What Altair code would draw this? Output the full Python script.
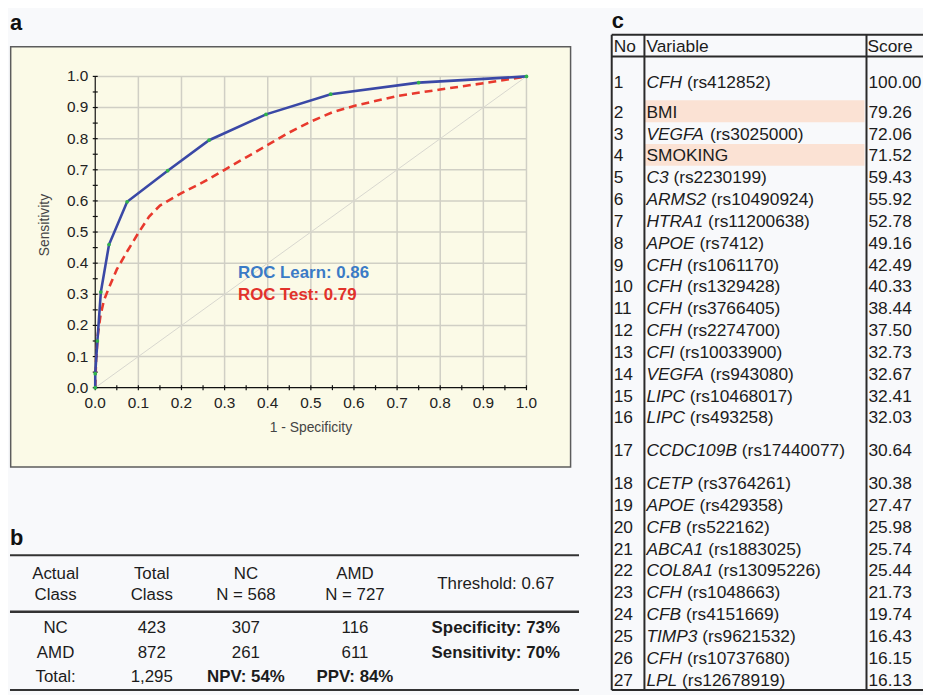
import altair as alt
import pandas as pd

# ---------------- data: panel a (ROC curves) ----------------
learn_fpr = [0.0, 0.0, 0.005, 0.013, 0.032, 0.074, 0.168, 0.264, 0.396, 0.546, 0.750, 1.0]
learn_tpr = [0.0, 0.045, 0.150, 0.307, 0.460, 0.597, 0.697, 0.795, 0.878, 0.943, 0.980, 1.0]
test_fpr = [0.0, 0.002, 0.006, 0.012, 0.020, 0.030, 0.050, 0.075, 0.100, 0.125, 0.150, 0.200,
            0.250, 0.300, 0.350, 0.400, 0.450, 0.500, 0.550, 0.600, 0.700, 0.800, 0.900, 1.0]
test_tpr = [0.0, 0.090, 0.170, 0.230, 0.280, 0.315, 0.380, 0.440, 0.497, 0.550, 0.585, 0.625,
            0.660, 0.700, 0.740, 0.780, 0.820, 0.855, 0.885, 0.905, 0.937, 0.958, 0.978, 1.0]
chance_line = [0.0, 1.0]
roc_labels = ["ROC Learn: 0.86", "ROC Test: 0.79"]
roc_label_colors = ["#3b7bc6", "#e2322b"]
axis_labels = [0.0, 0.1, 0.2, 0.3, 0.4, 0.5, 0.6, 0.7, 0.8, 0.9, 1.0]
axis_ticks = [0.0, 0.05, 0.1, 0.15, 0.2, 0.25, 0.3, 0.35, 0.4, 0.45, 0.5, 0.55, 0.6, 0.65,
              0.7, 0.75, 0.8, 0.85, 0.9, 0.95, 1.0]
axis_titles = ["1 - Specificity", "Sensitivity"]

# ---------------- data: panel b (classification table) ----------------
b_header1 = ["Actual", "Total", "NC", "AMD"]
b_header2 = ["Class", "Class", "N = 568", "N = 727"]
b_threshold = "Threshold: 0.67"
b_row_nc = ["NC", "423", "307", "116"]
b_row_amd = ["AMD", "872", "261", "611"]
b_row_total = ["Total:", "1,295"]
b_predictive = ["NPV: 54%", "PPV: 84%"]
b_rates = ["Specificity: 73%", "Sensitivity: 70%"]

# ---------------- data: panel c (variable importance) ----------------
c_header = ["No", "Variable", "Score"]
c_no = ["1", "2", "3", "4", "5", "6", "7", "8", "9", "10", "11", "12", "13", "14", "15",
        "16", "17", "18", "19", "20", "21", "22", "23", "24", "25", "26", "27"]
c_gene = ["CFH", "BMI", "VEGFA", "SMOKING", "C3", "ARMS2", "HTRA1", "APOE", "CFH", "CFH",
          "CFH", "CFH", "CFI", "VEGFA", "LIPC", "LIPC", "CCDC109B", "CETP", "APOE", "CFB",
          "ABCA1", "COL8A1", "CFH", "CFB", "TIMP3", "CFH", "LPL"]
c_snp = ["rs412852", "", "rs3025000", "", "rs2230199", "rs10490924", "rs11200638", "rs7412",
         "rs1061170", "rs1329428", "rs3766405", "rs2274700", "rs10033900", "rs943080",
         "rs10468017", "rs493258", "rs17440077", "rs3764261", "rs429358", "rs522162",
         "rs1883025", "rs13095226", "rs1048663", "rs4151669", "rs9621532", "rs10737680",
         "rs12678919"]
c_score = [100.00, 79.26, 72.06, 71.52, 59.43, 55.92, 52.78, 49.16, 42.49, 40.33, 38.44,
           37.50, 32.73, 32.67, 32.41, 32.03, 30.64, 30.38, 27.47, 25.98, 25.74, 25.44,
           21.73, 19.74, 16.43, 16.15, 16.13]
panel_labels = ["a", "b", "c"]

# ---------------- layout / style ----------------
FONT = "Liberation Sans"
W, H = 923, 687
BG = "#f8f9fb"
BEIGE = "#fbfae7"
GRID = "#d0cfc5"
INK = "#1c1c1c"
AXIS_INK = "#111"

ARIAL = {c: w for c, w in zip("ABCDEFGHIJKLMNOPQRSTUVWXYZ",
                              [667, 667, 722, 722, 667, 611, 778, 722, 278, 500, 667, 556, 833,
                               722, 778, 667, 778, 722, 667, 611, 722, 667, 944, 667, 667, 611])}
ARIAL.update({d: 556 for d in "0123456789"})
ARIAL[" "] = 278


def text_width(s, size):
    return sum(ARIAL.get(ch, 556) for ch in s) * size / 1000.0


one = pd.DataFrame({"k": [0]})

# ---------------- panel a ----------------
roc_x = alt.Scale(domain=[0, 1], range=[88, 523], nice=False, zero=False)
roc_y = alt.Scale(domain=[0, 1], range=[380, 66], nice=False, zero=False)


def RX(field):
    return alt.X(field, scale=roc_x, axis=None)


def RY(field):
    return alt.Y(field, scale=roc_y, axis=None)


frame_a = alt.Chart(one).mark_rect(fill=BEIGE, stroke="#5c5c5c", strokeWidth=1.5).encode(
    x=alt.value(2.7), x2=alt.value(567.5), y=alt.value(36), y2=alt.value(460))

grid_df = pd.DataFrame({"g": axis_labels[1:]})
grid_df["lo"] = 0.0
grid_df["hi"] = 1.0
lab_axis_df = pd.DataFrame({"g": axis_labels})
lab_axis_df["base"] = 0.0
tick_df = pd.DataFrame({"t": axis_ticks})
tick_df["base"] = 0.0
dom_df = pd.DataFrame({"lo": [0.0], "hi": [1.0]})
title_df = pd.DataFrame({"t": axis_titles, "mid": [0.5, 0.5], "base": [0.0, 0.0]})
learn_df = pd.DataFrame({"fpr": learn_fpr, "tpr": learn_tpr})
test_df = pd.DataFrame({"fpr": test_fpr, "tpr": test_tpr})
diag_df = pd.DataFrame({"fpr": chance_line, "tpr": chance_line})
ann_df = pd.DataFrame({"label": roc_labels, "color": roc_label_colors,
                       "ax": [0.331, 0.331], "ay": [0.369, 0.299]})

vgrid = alt.Chart(grid_df).mark_rule(color=GRID, strokeWidth=1.5).encode(
    x=RX("g:Q"), y=RY("lo:Q"), y2="hi:Q")
hgrid = alt.Chart(grid_df).mark_rule(color=GRID, strokeWidth=1.5).encode(
    y=RY("g:Q"), x=RX("lo:Q"), x2="hi:Q")
diag = alt.Chart(diag_df).mark_line(color="#d8d7ce", strokeWidth=1).encode(
    x=RX("fpr:Q"), y=RY("tpr:Q"))
x_dom = alt.Chart(dom_df).mark_rule(color=AXIS_INK, strokeWidth=1.2).encode(
    x=RX("lo:Q"), x2="hi:Q", y=RY("lo:Q"))
y_dom = alt.Chart(dom_df).mark_rule(color=AXIS_INK, strokeWidth=1.2).encode(
    y=RY("lo:Q"), y2="hi:Q", x=RX("lo:Q"))
xticks = alt.Chart(tick_df).mark_rule(color=AXIS_INK, strokeWidth=1.2, yOffset=-2.5,
                                      y2Offset=2.5).encode(
    x=RX("t:Q"), y=RY("base:Q"), y2="base:Q")
yticks = alt.Chart(tick_df).mark_rule(color=AXIS_INK, strokeWidth=1.2, xOffset=-2.5,
                                      x2Offset=2.5).encode(
    y=RY("t:Q"), x=RX("base:Q"), x2="base:Q")
xlabels = alt.Chart(lab_axis_df).mark_text(align="center", baseline="top", dy=8, font=FONT,
                                           fontSize=15.5, color="#222").encode(
    x=RX("g:Q"), y=RY("base:Q"), text=alt.Text("g:Q", format=".1f"))
ylabels = alt.Chart(lab_axis_df).mark_text(align="right", baseline="middle", dx=-7, font=FONT,
                                           fontSize=15.5, color="#222").encode(
    y=RY("g:Q"), x=RX("base:Q"), text=alt.Text("g:Q", format=".1f"))
xtitle = alt.Chart(title_df.iloc[[0]]).mark_text(align="center", baseline="middle", yOffset=41,
                                                 font=FONT, fontSize=14, color="#444").encode(
    x=RX("mid:Q"), y=RY("base:Q"), text="t:N")
ytitle = alt.Chart(title_df.iloc[[1]]).mark_text(align="center", baseline="middle", angle=270,
                                                 xOffset=-51, yOffset=-7, font=FONT,
                                                 fontSize=14, color="#444").encode(
    y=RY("mid:Q"), x=RX("base:Q"), text="t:N")
test_line = alt.Chart(test_df).mark_line(color="#e8392d", strokeWidth=2.6,
                                         strokeDash=[8, 5]).encode(
    x=RX("fpr:Q"), y=RY("tpr:Q"))
learn_line = alt.Chart(learn_df).mark_line(color="#3a48a6", strokeWidth=2.6).encode(
    x=RX("fpr:Q"), y=RY("tpr:Q"))
learn_pts = alt.Chart(learn_df).mark_circle(color="#2fb24c", size=14, opacity=1).encode(
    x=RX("fpr:Q"), y=RY("tpr:Q"))
ann = alt.Chart(ann_df).mark_text(align="left", baseline="middle", font=FONT, fontSize=17,
                                  fontWeight="bold").encode(
    x=RX("ax:Q"), y=RY("ay:Q"),
    text="label:N", color=alt.Color("color:N", scale=None, legend=None))

roc = alt.layer(vgrid, hgrid, diag, x_dom, y_dom, xticks, yticks, xlabels, ylabels,
                xtitle, ytitle, test_line, learn_line, learn_pts, ann)

# ---------------- panel labels ----------------
lab_df = pd.DataFrame({"label": panel_labels, "px": [2, 2, 609], "py": [19, 539, 17]})
lab_x = alt.Scale(domain=[0, W], range=[0, W], nice=False, zero=False)
lab_y = alt.Scale(domain=[0, H], range=[0, H], nice=False, zero=False)
labels = alt.Chart(lab_df).mark_text(align="left", baseline="alphabetic", font=FONT,
                                     fontSize=22, fontWeight="bold", color="#111").encode(
    x=alt.X("px:Q", scale=lab_x, axis=None), y=alt.Y("py:Q", scale=lab_y, axis=None),
    text="label:N")

# ---------------- panel b ----------------
B_COL_X = [46, 143, 238, 348, 490]
B_Y = {"h1": 19, "h2": 40, "thr": 29, "nc": 73, "amd": 99, "tot": 123}
bx = alt.Scale(domain=[0, 574], range=[2, 576], nice=False, zero=False)
by = alt.Scale(domain=[0, 136], range=[549, 685], nice=False, zero=False)

b_lines = pd.DataFrame({"y": [0, 57, 136], "x0": [0, 0, 0], "x1": [574, 574, 574],
                        "w": [2.0, 2.6, 2.0]})
normal_rows = []
for i, t in enumerate(b_header1):
    normal_rows.append((B_COL_X[i], B_Y["h1"], t))
for i, t in enumerate(b_header2):
    normal_rows.append((B_COL_X[i], B_Y["h2"], t))
normal_rows.append((B_COL_X[4], B_Y["thr"], b_threshold))
for i, t in enumerate(b_row_nc):
    normal_rows.append((B_COL_X[i], B_Y["nc"], t))
for i, t in enumerate(b_row_amd):
    normal_rows.append((B_COL_X[i], B_Y["amd"], t))
for i, t in enumerate(b_row_total):
    normal_rows.append((B_COL_X[i], B_Y["tot"], t))
bold_rows = [(B_COL_X[2], B_Y["tot"], b_predictive[0]), (B_COL_X[3], B_Y["tot"], b_predictive[1]),
             (B_COL_X[4], B_Y["nc"], b_rates[0]), (B_COL_X[4], B_Y["amd"], b_rates[1])]
b_norm_df = pd.DataFrame(normal_rows, columns=["x", "y", "t"])
b_bold_df = pd.DataFrame(bold_rows, columns=["x", "y", "t"])

b_rule = alt.Chart(b_lines).mark_rule(color="#333").encode(
    x=alt.X("x0:Q", scale=bx, axis=None), x2="x1:Q",
    y=alt.Y("y:Q", scale=by, axis=None),
    strokeWidth=alt.StrokeWidth("w:Q", scale=None, legend=None))
b_norm = alt.Chart(b_norm_df).mark_text(align="center", baseline="middle", font=FONT,
                                        fontSize=17, color=INK).encode(
    x=alt.X("x:Q", scale=bx, axis=None), y=alt.Y("y:Q", scale=by, axis=None), text="t:N")
b_bold = alt.Chart(b_bold_df).mark_text(align="center", baseline="middle", font=FONT,
                                        fontSize=17, fontWeight="bold", color=INK).encode(
    x=alt.X("x:Q", scale=bx, axis=None), y=alt.Y("y:Q", scale=by, axis=None), text="t:N")
table_b = alt.layer(b_rule, b_norm, b_bold)

# ---------------- panel c ----------------
C_W = 314
C_X_NO, C_X_VAR, C_X_SCORE = 2, 35, 259
C_VLINES = [0, 33, 257]
C_FS = 17.5
row_units = [2 if i in (0, 16) else 1 for i in range(len(c_no))]
total_units = 1 + sum(row_units)
cx = alt.Scale(domain=[0, C_W], range=[609, 609 + C_W], nice=False, zero=False)
cy = alt.Scale(domain=[0, total_units], range=[24, 685], nice=False, zero=False)

recs = []
top = 1.0
for i in range(len(c_no)):
    h = row_units[i]
    center = top + h / 2 + (0.15 if i == 0 else 0.0)
    gene_w = text_width(c_gene[i], C_FS) + text_width(" ", C_FS)
    recs.append({"no": c_no[i], "gene": c_gene[i], "snp": ("(" + c_snp[i] + ")") if c_snp[i] else "",
                 "score": f"{c_score[i]:.2f}", "yc": center, "top": top, "bot": top + h,
                 "is_gene": bool(c_snp[i]), "snp_x": C_X_VAR + gene_w})
    top += h
c_df = pd.DataFrame(recs)
c_df["no_x"] = C_X_NO
c_df["var_x"] = C_X_VAR
c_df["score_x"] = C_X_SCORE
c_df["hl_x0"] = 33.5
c_df["hl_x1"] = 255

c_h_lines = pd.DataFrame({"y": [0, 1, total_units], "x0": [0, 0, 0], "x1": [C_W, C_W, C_W]})
c_v_lines = pd.DataFrame({"x": C_VLINES, "y0": [0, 0, 0], "y1": [total_units] * 3})
c_head_df = pd.DataFrame({"t": c_header, "x": [C_X_NO, C_X_VAR, C_X_SCORE - 1], "y": [0.5] * 3})

c_hl = alt.Chart(c_df[~c_df["is_gene"]]).mark_rect(color="#fbe2d4").encode(
    x=alt.X("hl_x0:Q", scale=cx, axis=None), x2="hl_x1:Q",
    y=alt.Y("top:Q", scale=cy, axis=None), y2="bot:Q")
c_hrule = alt.Chart(c_h_lines).mark_rule(color="#2a2a2a", strokeWidth=2).encode(
    x=alt.X("x0:Q", scale=cx, axis=None), x2="x1:Q", y=alt.Y("y:Q", scale=cy, axis=None))
c_vrule = alt.Chart(c_v_lines).mark_rule(color="#2a2a2a", strokeWidth=2).encode(
    x=alt.X("x:Q", scale=cx, axis=None), y=alt.Y("y0:Q", scale=cy, axis=None), y2="y1:Q")
txt = dict(align="left", baseline="middle", dy=1.5, font=FONT, fontSize=C_FS, color=INK)
c_head = alt.Chart(c_head_df).mark_text(**txt).encode(
    x=alt.X("x:Q", scale=cx, axis=None), y=alt.Y("y:Q", scale=cy, axis=None), text="t:N")
c_num = alt.Chart(c_df).mark_text(**txt).encode(
    x=alt.X("no_x:Q", scale=cx, axis=None), y=alt.Y("yc:Q", scale=cy, axis=None), text="no:N")
c_gene_it = alt.Chart(c_df[c_df["is_gene"]]).mark_text(fontStyle="italic", **txt).encode(
    x=alt.X("var_x:Q", scale=cx, axis=None), y=alt.Y("yc:Q", scale=cy, axis=None), text="gene:N")
c_gene_plain = alt.Chart(c_df[~c_df["is_gene"]]).mark_text(**txt).encode(
    x=alt.X("var_x:Q", scale=cx, axis=None), y=alt.Y("yc:Q", scale=cy, axis=None), text="gene:N")
c_snp_t = alt.Chart(c_df[c_df["is_gene"]]).mark_text(**txt).encode(
    x=alt.X("snp_x:Q", scale=cx, axis=None), y=alt.Y("yc:Q", scale=cy, axis=None), text="snp:N")
c_sc = alt.Chart(c_df).mark_text(**txt).encode(
    x=alt.X("score_x:Q", scale=cx, axis=None), y=alt.Y("yc:Q", scale=cy, axis=None),
    text="score:N")
table_c = alt.layer(c_hl, c_hrule, c_vrule, c_head, c_num, c_gene_it, c_gene_plain, c_snp_t, c_sc)

chart = alt.layer(frame_a, roc, labels, table_b, table_c).resolve_scale(
    x="independent", y="independent"
).properties(
    width=W, height=H, padding=0, background=BG,
    autosize=alt.AutoSizeParams(type="none")
).configure_view(stroke=None)

chart.save("out.html", embed_options={"renderer": "svg", "actions": False})
